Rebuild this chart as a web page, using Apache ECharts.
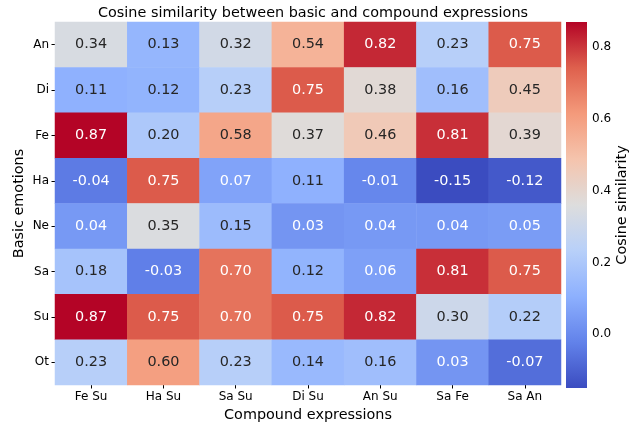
<!DOCTYPE html>
<html>
<head>
<meta charset="utf-8">
<script src="https://cdn.jsdelivr.net/npm/echarts@6/dist/echarts.min.js"></script>
<style>
  html, body { margin: 0; padding: 0; background: #fff; }
  #chart { width: 639px; height: 427px; }
</style>
</head>
<body>
<div id="chart"></div>
<script>
// Libellés des axes
const basicEmotions = ['An', 'Di', 'Fe', 'Ha', 'Ne', 'Sa', 'Su', 'Ot'];
const compoundExpressions = ['Fe Su', 'Ha Su', 'Sa Su', 'Di Su', 'An Su', 'Sa Fe', 'Sa An'];

// Une ligne par émotion de base
const rowAn = [0.34, 0.13, 0.32, 0.54, 0.82, 0.23, 0.75];
const rowDi = [0.11, 0.12, 0.23, 0.75, 0.38, 0.16, 0.45];
const rowFe = [0.87, 0.20, 0.58, 0.37, 0.46, 0.81, 0.39];
const rowHa = [-0.04, 0.75, 0.07, 0.11, -0.01, -0.15, -0.12];
const rowNe = [0.04, 0.35, 0.15, 0.03, 0.04, 0.04, 0.05];
const rowSa = [0.18, -0.03, 0.70, 0.12, 0.06, 0.81, 0.75];
const rowSu = [0.87, 0.75, 0.70, 0.75, 0.82, 0.30, 0.22];
const rowOt = [0.23, 0.60, 0.23, 0.14, 0.16, 0.03, -0.07];
const rows = [rowAn, rowDi, rowFe, rowHa, rowNe, rowSa, rowSu, rowOt];

const colorbarTicks = [0.0, 0.2, 0.4, 0.6, 0.8];
const vMin = -0.15;
const vMax = 0.87;

// coolwarm (Moreland)
const coolwarm = [
    [59, 76, 192], [98, 130, 234], [141, 176, 254], [184, 208, 249],
    [221, 221, 221], [245, 196, 173], [244, 154, 123], [222, 96, 77], [180, 4, 38]
];
const toHex = c => '#' + c.map(v => Math.round(v).toString(16).padStart(2, '0')).join('');
const cmapHex = coolwarm.map(toHex);

function cmap(t) {
    t = Math.max(0, Math.min(1, t));
    const pos = t * (coolwarm.length - 1);
    const i = Math.min(Math.floor(pos), coolwarm.length - 2);
    const f = pos - i;
    return coolwarm[i].map((v, k) => v + (coolwarm[i + 1][k] - v) * f);
}

// même règle que seaborn pour la couleur du texte
function textColor(v) {
    const rgb = cmap((v - vMin) / (vMax - vMin)).map(c => {
        c = c / 255;
        return c <= 0.03928 ? c / 12.92 : Math.pow((c + 0.055) / 1.055, 2.4);
    });
    const lum = 0.2126 * rgb[0] + 0.7152 * rgb[1] + 0.0722 * rgb[2];
    return lum > 0.408 ? '#262626' : '#ffffff';
}

const data = [];
rows.forEach((row, y) => {
    row.forEach((v, x) => {
        data.push({ value: [x, y, v], label: { color: textColor(v) } });
    });
});

const font = 'DejaVu Sans';
const myChart = echarts.init(document.getElementById('chart'));

myChart.setOption({
    animation: false,
    title: {
        text: 'Cosine similarity between basic and compound expressions',
        left: 308,
        textAlign: 'center',
        top: 1,
        textStyle: { fontFamily: font, fontSize: 14.4, fontWeight: 'normal', color: '#000' }
    },
    grid: [
        { left: 55, right: 78, top: 22, bottom: 39 },
        { left: 566, width: 21, top: 22, height: 366 }
    ],
    xAxis: [
        {
            type: 'category',
            data: compoundExpressions,
            gridIndex: 0,
            name: 'Compound expressions',
            nameLocation: 'middle',
            nameGap: 23,
            nameMoveOverlap: false,
            nameTextStyle: { fontFamily: font, fontSize: 14.4, color: '#000' },
            axisLine: { show: false },
            axisTick: { show: true, alignWithLabel: true, length: 3.5, lineStyle: { color: '#000' } },
            axisLabel: { fontFamily: font, fontSize: 12, color: '#000', margin: 6 },
            splitLine: { show: false }
        },
        {
            type: 'value', gridIndex: 1, min: 0, max: 1, show: false
        }
    ],
    yAxis: [
        {
            type: 'category',
            data: basicEmotions,
            inverse: true,
            gridIndex: 0,
            name: 'Basic emotions',
            nameLocation: 'middle',
            nameGap: 29,
            nameMoveOverlap: false,
            nameTextStyle: { fontFamily: font, fontSize: 14.4, color: '#000' },
            axisLine: { show: false },
            axisTick: { show: true, alignWithLabel: true, length: 3.5, lineStyle: { color: '#000' } },
            axisLabel: { fontFamily: font, fontSize: 12, color: '#000', margin: 6 },
            splitLine: { show: false }
        },
        {
            type: 'value',
            gridIndex: 1,
            min: vMin,
            max: vMax,
            position: 'right',
            name: 'Cosine similarity',
            nameLocation: 'middle',
            nameGap: 28,
            nameTextStyle: { fontFamily: font, fontSize: 14.4, color: '#000' },
            axisLine: { show: false },
            axisTick: { show: true, length: 3.5, customValues: colorbarTicks, lineStyle: { color: '#000' } },
            axisLabel: {
                fontFamily: font, fontSize: 12, color: '#000', margin: 5,
                customValues: colorbarTicks,
                formatter: v => v.toFixed(1)
            },
            splitLine: { show: false }
        }
    ],
    visualMap: {
        show: false,
        min: vMin,
        max: vMax,
        dimension: 2,
        seriesIndex: 0,
        inRange: { color: cmapHex }
    },
    series: [
        {
            type: 'heatmap',
            data: data,
            xAxisIndex: 0,
            yAxisIndex: 0,
            label: {
                show: true,
                fontFamily: font,
                fontSize: 14.4,
                formatter: p => p.value[2].toFixed(2)
            },
            emphasis: { disabled: true }
        },
        {
            // barre de couleur
            type: 'custom',
            xAxisIndex: 1,
            yAxisIndex: 1,
            data: [[0]],
            silent: true,
            renderItem: function (params, api) {
                const p0 = api.coord([0, vMax]);
                const p1 = api.coord([1, vMin]);
                return {
                    type: 'rect',
                    shape: { x: p0[0], y: p0[1], width: p1[0] - p0[0], height: p1[1] - p0[1] },
                    style: {
                        fill: new echarts.graphic.LinearGradient(0, 1, 0, 0,
                            cmapHex.map((c, i) => ({ offset: i / (cmapHex.length - 1), color: c })))
                    }
                };
            }
        }
    ]
});
</script>
</body>
</html>
